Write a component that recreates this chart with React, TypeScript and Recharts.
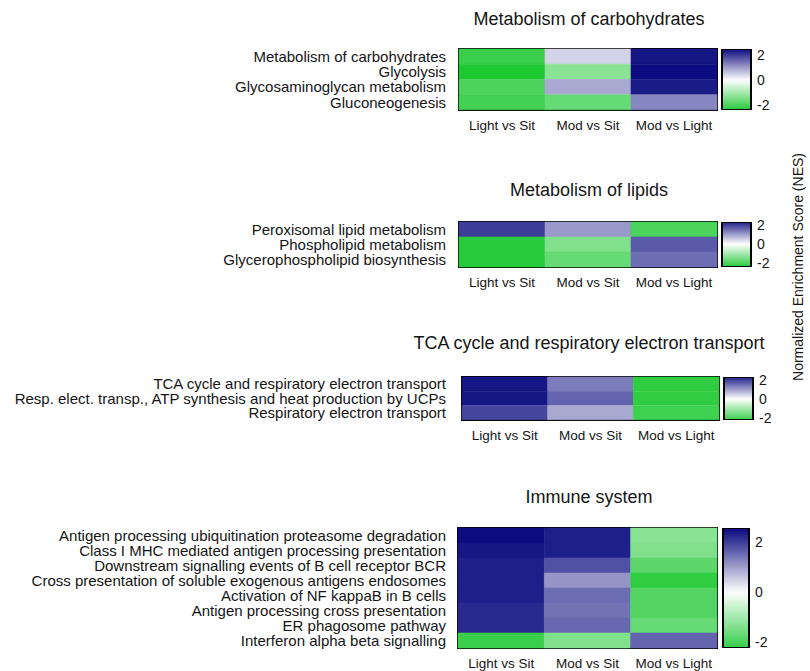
import React from 'react';
import { BarChart, Bar, XAxis, YAxis, Cell, ReferenceArea } from 'recharts';

const COLUMNS = ['Light vs Sit', 'Mod vs Sit', 'Mod vs Light'];
const CB_TICKS = [-2, 0, 2];

const CARB_ROWS = ['Metabolism of carbohydrates', 'Glycolysis', 'Glycosaminoglycan metabolism', 'Gluconeogenesis'];
const CARB_NES = [
  [-2.2, 0.45, 2.4],
  [-2.5, -1.3, 2.5],
  [-2.0, 0.9, 2.35],
  [-2.1, -1.7, 1.25],
];

const LIPID_ROWS = ['Peroxisomal lipid metabolism', 'Phospholipid metabolism', 'Glycerophospholipid biosynthesis'];
const LIPID_NES = [
  [2.0, 1.05, -2.0],
  [-2.4, -1.4, 1.7],
  [-2.4, -1.7, 1.5],
];

const TCA_ROWS = [
  'TCA cycle and respiratory electron transport',
  'Resp. elect. transp., ATP synthesis and heat production by UCPs',
  'Respiratory electron transport',
];
const TCA_NES = [
  [2.4, 1.35, -2.3],
  [2.4, 1.6, -2.3],
  [1.9, 0.9, -2.15],
];

const IMMUNE_ROWS = [
  'Antigen processing ubiquitination proteasome degradation',
  'Class I MHC mediated antigen processing presentation',
  'Downstream signalling events of B cell receptor BCR',
  'Cross presentation of soluble exogenous antigens endosomes',
  'Activation of NF kappaB in B cells',
  'Antigen processing cross presentation',
  'ER phagosome pathway',
  'Interferon alpha beta signalling',
];
const IMMUNE_NES = [
  [2.6, 2.3, -1.3],
  [2.4, 2.3, -1.4],
  [2.3, 1.8, -1.8],
  [2.3, 1.1, -2.3],
  [2.3, 1.5, -1.9],
  [2.2, 1.45, -1.9],
  [2.2, 1.55, -1.7],
  [-2.2, -1.4, 1.6],
];

const FONT = '"Liberation Sans", Arial, sans-serif';
const TEXT = '#151515';

// green -> white -> navy
function nesColor(v: number) {
  const t = Math.max(-1, Math.min(1, v / 2.5));
  const white = [255, 255, 255];
  const end = t >= 0 ? [12, 12, 128] : [30, 200, 50];
  const a = Math.abs(t);
  const c = white.map((w, i) => Math.round(w + (end[i] - w) * a));
  return `rgb(${c[0]},${c[1]},${c[2]})`;
}

type Box = { left: number; right: number; top: number; bottom: number };

function Heatmap({ rows, nes, box }: { rows: string[]; nes: number[][]; box: Box }) {
  const data = rows.map((name) => ({ name, c0: 1, c1: 1, c2: 1 }));
  const h = box.bottom - box.top;
  return (
    <div style={{ position: 'absolute', left: 0, top: box.top - 2 }}>
      <BarChart
        layout="vertical"
        width={box.right + 2}
        height={h + 32}
        data={data}
        margin={{ top: 2, right: 2, left: 0, bottom: 0 }}
        barCategoryGap={0}
      >
        <XAxis
          type="number"
          domain={[0, 3]}
          ticks={[0.5, 1.5, 2.5]}
          tickFormatter={(v: number) => COLUMNS[Math.floor(v)]}
          axisLine={false}
          tickLine={false}
          tickSize={0}
          tickMargin={10}
          height={30}
          interval={0}
          tick={{ fill: TEXT, fontSize: 13.5 }}
        />
        <YAxis
          type="category"
          dataKey="name"
          width={box.left}
          axisLine={false}
          tickLine={false}
          tickSize={0}
          tickMargin={box.left - 446}
          interval={0}
          tick={{ fill: TEXT, fontSize: 15 }}
        />
        {COLUMNS.map((c, j) => (
          <Bar key={c} dataKey={`c${j}`} stackId="h" isAnimationActive={false}>
            {rows.map((r, i) => (
              <Cell key={r} fill={nesColor(nes[i][j])} stroke={nesColor(nes[i][j])} strokeWidth={0.6} />
            ))}
          </Bar>
        ))}
        <ReferenceArea x1={0} x2={3} fill="none" stroke="#000" strokeWidth={2} />
      </BarChart>
    </div>
  );
}

function ColorBar({ id, lo, hi, box }: { id: string; lo: number; hi: number; box: Box }) {
  const stops = [];
  for (let k = 0; k <= 24; k++) {
    const v = hi - ((hi - lo) * k) / 24;
    stops.push(<stop key={k} offset={`${(k / 24) * 100}%`} stopColor={nesColor(v)} />);
  }
  const w = box.right - box.left;
  return (
    <div style={{ position: 'absolute', left: box.left - 2, top: box.top - 10 }}>
      <BarChart
        width={w + 2 + 40}
        height={box.bottom - box.top + 20}
        data={[{ name: 'nes', range: [lo, hi] }]}
        margin={{ top: 10, bottom: 10, left: 2, right: 0 }}
        barCategoryGap={0}
      >
        <defs>
          <linearGradient id={id} x1="0" y1="0" x2="0" y2="1">
            {stops}
          </linearGradient>
        </defs>
        <XAxis dataKey="name" hide />
        <YAxis
          yAxisId="main"
          orientation="right"
          domain={[lo, hi]}
          ticks={CB_TICKS}
          width={40}
          axisLine={false}
          tickLine={false}
          tickSize={0}
          tickMargin={6}
          interval={0}
          allowDataOverflow
          tick={{ fill: TEXT, fontSize: 14 }}
        />
        <YAxis
          yAxisId="inL"
          orientation="left"
          mirror
          domain={[lo, hi]}
          ticks={CB_TICKS}
          allowDataOverflow
          axisLine={false}
          tickSize={4}
          tickLine={{ stroke: '#000', strokeWidth: 1.5 }}
          tick={false}
        />
        <YAxis
          yAxisId="inR"
          orientation="right"
          mirror
          domain={[lo, hi]}
          ticks={CB_TICKS}
          allowDataOverflow
          axisLine={false}
          tickSize={4}
          tickLine={{ stroke: '#000', strokeWidth: 1.5 }}
          tick={false}
        />
        <Bar yAxisId="main" dataKey="range" fill={`url(#${id})`} stroke="#000" strokeWidth={2} isAnimationActive={false} />
      </BarChart>
    </div>
  );
}

const TITLES = [
  { text: 'Metabolism of carbohydrates', y: 25 },
  { text: 'Metabolism of lipids', y: 196 },
  { text: 'TCA cycle and respiratory electron transport', y: 349 },
  { text: 'Immune system', y: 503 },
];

export default function App() {
  return (
    <div style={{ position: 'absolute', left: 0, top: 0, width: 810, height: 671, background: '#fff', fontFamily: FONT }}>
      <Heatmap rows={CARB_ROWS} nes={CARB_NES} box={{ left: 459, right: 717, top: 49, bottom: 110 }} />
      <ColorBar id="cb1" lo={-2.4} hi={2.5} box={{ left: 722, right: 751, top: 49, bottom: 110 }} />

      <Heatmap rows={LIPID_ROWS} nes={LIPID_NES} box={{ left: 459, right: 717, top: 222, bottom: 267 }} />
      <ColorBar id="cb2" lo={-2.4} hi={2.3} box={{ left: 722, right: 751, top: 222, bottom: 267 }} />

      <Heatmap rows={TCA_ROWS} nes={TCA_NES} box={{ left: 462, right: 719, top: 377, bottom: 420 }} />
      <ColorBar id="cb3" lo={-2.2} hi={2.3} box={{ left: 724, right: 753, top: 377, bottom: 420 }} />

      <Heatmap rows={IMMUNE_ROWS} nes={IMMUNE_NES} box={{ left: 458, right: 717, top: 528, bottom: 648 }} />
      <ColorBar id="cb4" lo={-2.24} hi={2.56} box={{ left: 723, right: 749, top: 528, bottom: 648 }} />

      <svg width={810} height={671} style={{ position: 'absolute', left: 0, top: 0, pointerEvents: 'none' }}>
        {TITLES.map((t) => (
          <text key={t.text} x={589} y={t.y} textAnchor="middle" fontSize={18} fill={TEXT} fontFamily={FONT}>
            {t.text}
          </text>
        ))}
        <text transform="translate(803,267) rotate(-90)" textAnchor="middle" fontSize={14} fill={TEXT} fontFamily={FONT}>
          Normalized Enrichment Score (NES)
        </text>
      </svg>
    </div>
  );
}
